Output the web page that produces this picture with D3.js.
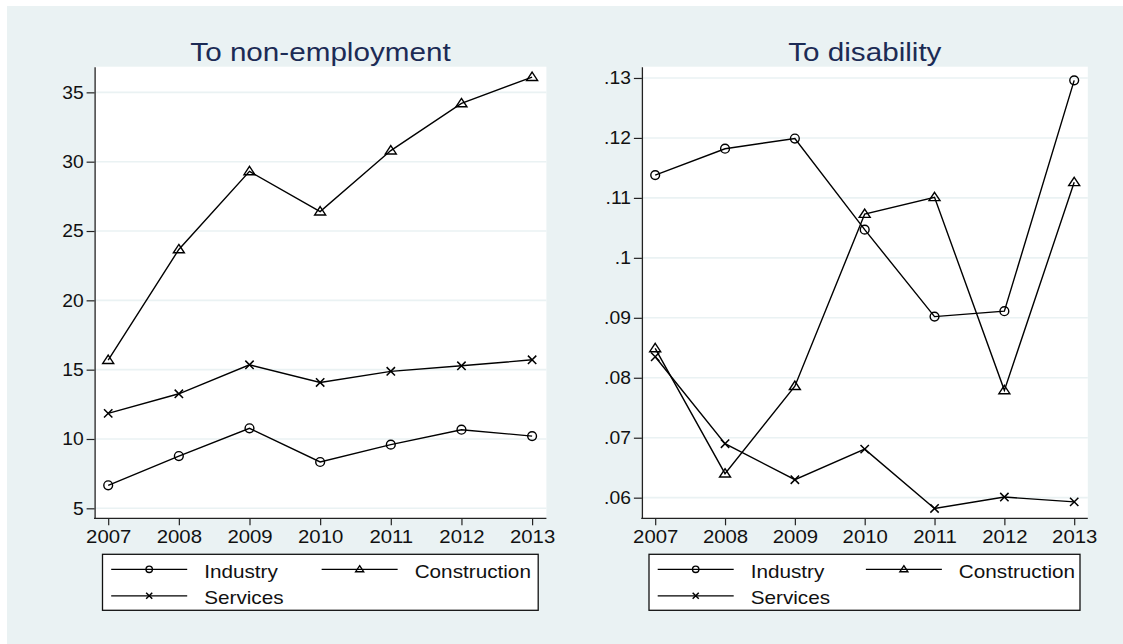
<!DOCTYPE html>
<html>
<head>
<meta charset="utf-8">
<script src="https://cdn.jsdelivr.net/npm/d3@7"></script>
<style>
  html, body { margin: 0; padding: 0; background: #ffffff; }
  svg { display: block; }
  text { font-family: "Liberation Sans", Arial, Helvetica, sans-serif; }
</style>
</head>
<body>
<svg id="chart" width="1123" height="644"></svg>
<script>
// ---------- data ----------
const years = [2007, 2008, 2009, 2010, 2011, 2012, 2013];
const seriesNames = ["Industry", "Construction", "Services"];
const seriesSymbols = ["circle", "triangle", "x"];

const nonEmpIndustry     = [6.66, 8.77, 10.77, 8.34, 9.59, 10.67, 10.21];
const nonEmpConstruction = [15.69, 23.67, 29.3, 26.4, 30.8, 34.2, 36.1];
const nonEmpServices     = [11.85, 13.26, 15.35, 14.08, 14.88, 15.28, 15.71];

const disIndustry     = [0.1138, 0.1182, 0.1199, 0.1047, 0.0902, 0.0911, 0.1296];
const disConstruction = [0.0849, 0.0640, 0.0786, 0.1073, 0.1101, 0.0779, 0.1126];
const disServices     = [0.0835, 0.0690, 0.0630, 0.0681, 0.0582, 0.0601, 0.0593];

const nonEmpTicks = [5, 10, 15, 20, 25, 30, 35];
const nonEmpTickLabels = ["5", "10", "15", "20", "25", "30", "35"];
const disTicks = [0.06, 0.07, 0.08, 0.09, 0.10, 0.11, 0.12, 0.13];
const disTickLabels = [".06", ".07", ".08", ".09", ".1", ".11", ".12", ".13"];

const titles = ["To non-employment", "To disability"];

// ---------- layout ----------
const svg = d3.select("#chart");
const BG = "#eaf2f3";
const TITLE_COLOR = "#1c2b55";

svg.append("rect").attr("x", 7).attr("y", 6).attr("width", 1116).attr("height", 638).attr("fill", BG);

const panels = [
  {
    title: titles[0],
    series: [nonEmpIndustry, nonEmpConstruction, nonEmpServices],
    ticks: nonEmpTicks, tickLabels: nonEmpTickLabels,
    plot: {x0: 94.6, x1: 546.4, y0: 66.7, y1: 518.3},
    xRange: [108.2, 532.1],
    yDomain: [4.28, 36.85],
    legend: {x0: 102.5, x1: 538.2}
  },
  {
    title: titles[1],
    series: [disIndustry, disConstruction, disServices],
    ticks: disTicks, tickLabels: disTickLabels,
    plot: {x0: 641.9, x1: 1087.8, y0: 66.7, y1: 518.3},
    xRange: [655.2, 1074.2],
    yDomain: [0.05656, 0.13188],
    legend: {x0: 649, x1: 1080}
  }
];

function stretch(sel, f) {
  sel.each(function () {
    const w = this.getComputedTextLength();
    d3.select(this).attr("textLength", w * f).attr("lengthAdjust", "spacingAndGlyphs");
  });
}

function drawMarker(g, type, x, y, s) {
  if (type === "circle") {
    g.append("circle").attr("cx", x).attr("cy", y).attr("r", s)
      .attr("fill", "none").attr("stroke", "#000").attr("stroke-width", 1.4);
  } else if (type === "triangle") {
    const h = s * 1.9, w = s * 2.5;
    const p = d3.path();
    p.moveTo(x, y - h * 0.6);
    p.lineTo(x + w / 2, y + h * 0.4);
    p.lineTo(x - w / 2, y + h * 0.4);
    p.closePath();
    g.append("path").attr("d", p.toString())
      .attr("fill", "none").attr("stroke", "#000").attr("stroke-width", 1.4);
  } else {
    const d = s * 0.95;
    const p = d3.path();
    p.moveTo(x - d, y - d); p.lineTo(x + d, y + d);
    p.moveTo(x - d, y + d); p.lineTo(x + d, y - d);
    g.append("path").attr("d", p.toString())
      .attr("fill", "none").attr("stroke", "#000").attr("stroke-width", 1.5);
  }
}

panels.forEach(pn => {
  const g = svg.append("g");
  const P = pn.plot;
  // plot area
  g.append("rect").attr("x", P.x0).attr("y", P.y0)
    .attr("width", P.x1 - P.x0).attr("height", P.y1 - P.y0).attr("fill", "#ffffff");

  const x = d3.scaleLinear().domain([years[0], years[years.length - 1]]).range(pn.xRange);
  const y = d3.scaleLinear().domain(pn.yDomain).range([P.y1, P.y0]);

  // gridlines
  g.selectAll("line.grid").data(pn.ticks).enter().append("line")
    .attr("x1", P.x0).attr("x2", P.x1)
    .attr("y1", d => y(d)).attr("y2", d => y(d))
    .attr("stroke", BG).attr("stroke-width", 1.6);

  // title
  const t = g.append("text").attr("x", (P.x0 + P.x1) / 2).attr("y", 60.5)
    .attr("text-anchor", "middle").attr("font-size", 26)
    .attr("fill", TITLE_COLOR).text(pn.title);
  stretch(t, 1.14);

  // y axis
  const yAxis = d3.axisLeft(y).tickValues(pn.ticks)
    .tickFormat((d, i) => pn.tickLabels[i]).tickSize(8).tickSizeOuter(0).tickPadding(3);
  const ya = g.append("g").attr("transform", `translate(${P.x0},0)`).call(yAxis);
  ya.select(".domain").attr("stroke", "#222").attr("stroke-width", 1.3);
  ya.selectAll(".tick line").attr("stroke", "#222").attr("stroke-width", 1.2);
  ya.selectAll(".tick text").attr("font-size", 18).attr("fill", "#111")
    .attr("font-family", "Liberation Sans, Arial, sans-serif");
  stretch(ya.selectAll(".tick text"), 1.07);

  // x axis
  const xAxis = d3.axisBottom(x).tickValues(years).tickFormat(d3.format("d"))
    .tickSize(7).tickSizeOuter(0).tickPadding(5);
  const xa = g.append("g").attr("transform", `translate(0,${P.y1})`).call(xAxis);
  xa.select(".domain").remove();
  xa.selectAll(".tick line").attr("stroke", "#222").attr("stroke-width", 1.2);
  xa.selectAll(".tick text").attr("font-size", 18.5).attr("fill", "#111")
    .attr("font-family", "Liberation Sans, Arial, sans-serif");
  stretch(xa.selectAll(".tick text"), 1.1);
  g.append("line").attr("x1", P.x0 - 0.6).attr("x2", P.x1)
    .attr("y1", P.y1).attr("y2", P.y1)
    .attr("stroke", "#222").attr("stroke-width", 1.3);

  // series
  const line = d3.line().x((d, i) => x(years[i])).y(d => y(d));
  pn.series.forEach((vals) => {
    g.append("path").attr("d", line(vals)).attr("fill", "none")
      .attr("stroke", "#000").attr("stroke-width", 1.4);
  });
  pn.series.forEach((vals, si) => {
    vals.forEach((v, i) => drawMarker(g, seriesSymbols[si], x(years[i]), y(v), 4.4));
  });

  // legend
  const L = pn.legend;
  const lg = g.append("g");
  lg.append("rect").attr("x", L.x0).attr("y", 554.3)
    .attr("width", L.x1 - L.x0).attr("height", 56)
    .attr("fill", "#ffffff").attr("stroke", "#111").attr("stroke-width", 1.3);
  const colW = (L.x1 - L.x0) * 0.483;
  const rows = [569.3, 595.8];
  seriesNames.forEach((name, si) => {
    const col = si === 1 ? 1 : 0;
    const row = si === 2 ? 1 : 0;
    const lx0 = L.x0 + 8.7 + col * colW;
    const lx1 = lx0 + 76;
    const ly = rows[row];
    lg.append("line").attr("x1", lx0).attr("x2", lx1).attr("y1", ly).attr("y2", ly)
      .attr("stroke", "#000").attr("stroke-width", 1.3);
    drawMarker(lg, seriesSymbols[si], (lx0 + lx1) / 2, ly, 3.2);
    const lt = lg.append("text").attr("x", lx1 + 17).attr("y", ly + 8.3)
      .attr("font-size", 19).attr("fill", "#111").text(name);
    stretch(lt, 1.09);
  });
});
</script>
</body>
</html>
